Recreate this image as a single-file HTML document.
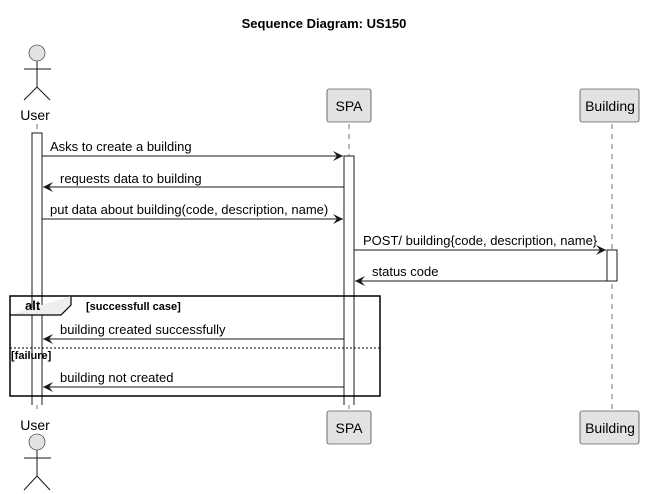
<!DOCTYPE html>
<html><head><style>body{margin:0;background:#fff}svg{display:block}</style></head><body>
<svg width="649" height="494" xmlns="http://www.w3.org/2000/svg" font-family="Liberation Sans, sans-serif">
<defs><marker id="a" markerWidth="12" markerHeight="10" refX="10" refY="5" orient="auto" markerUnits="userSpaceOnUse"><path d="M0,0 L10,5 L0,10 L4,5 Z" fill="#181818"/></marker></defs>
<text x="324" y="28" text-anchor="middle" font-size="13" font-weight="bold">Sequence Diagram: US150</text>
<g stroke="#181818" stroke-width="0.6" stroke-dasharray="5,5">
<line x1="37" y1="124" x2="37" y2="410"/><line x1="349" y1="124" x2="349" y2="410"/><line x1="612" y1="124" x2="612" y2="410"/></g>
<g fill="#e2e2e2" stroke="#181818" stroke-width="0.6">
<circle cx="37" cy="53" r="8"/><circle cx="37" cy="442" r="8"/>
<rect x="327" y="89" width="44" height="33" rx="2"/><rect x="580" y="89" width="59" height="33" rx="2"/>
<rect x="327" y="411" width="44" height="33" rx="2"/><rect x="580" y="411" width="59" height="33" rx="2"/></g>
<g stroke="#181818" fill="none" stroke-width="1">
<path d="M37,61 V87 M24,69 H51 M37,87 L24,100 M37,87 L50,100"/>
<path d="M37,450 V476 M24,458 H51 M37,476 L24,490 M37,476 L50,490"/></g>
<g font-size="14" fill="#000" text-anchor="middle">
<text x="35" y="120">User</text><text x="349" y="111">SPA</text><text x="610" y="111">Building</text>
<text x="35" y="430">User</text><text x="349" y="433">SPA</text><text x="610" y="433">Building</text></g>
<g fill="#fff" stroke="#181818" stroke-width="1">
<path d="M32,405 V133 H42 V405"/><path d="M344,405 V156 H354 V405"/><rect x="607" y="250" width="10" height="31"/></g>
<g stroke="#181818" stroke-width="1" marker-end="url(#a)">
<line x1="42" y1="156" x2="343" y2="156"/><line x1="344" y1="187" x2="43" y2="187"/>
<line x1="42" y1="219" x2="343" y2="219"/><line x1="354" y1="250" x2="606" y2="250"/>
<line x1="607" y1="281" x2="355" y2="281"/><line x1="344" y1="339" x2="43" y2="339"/>
<line x1="344" y1="387" x2="43" y2="387"/></g>
<g font-size="13" fill="#000">
<text x="50" y="151">Asks to create a building</text><text x="60" y="183">requests data to building</text>
<text x="50" y="214">put data about building(code, description, name)</text>
<text x="363" y="245">POST/ building{code, description, name}</text><text x="372" y="276">status code</text>
<text x="60" y="334">building created successfully</text><text x="60" y="382">building not created</text></g>
<rect x="10" y="296" width="370" height="100" fill="none" stroke="#000" stroke-width="1.5"/>
<path d="M10,315 H61 L71,305 V296" fill="#eee" stroke="#000" stroke-width="1.2"/>
<text x="25" y="310" font-size="13" font-weight="bold">alt</text>
<text x="86" y="310" font-size="11" font-weight="bold">[successfull case]</text>
<line x1="10" y1="348" x2="380" y2="348" stroke="#000" stroke-width="1" stroke-dasharray="2,2"/>
<text x="11" y="359" font-size="11" font-weight="bold">[failure]</text>
</svg></body></html>
